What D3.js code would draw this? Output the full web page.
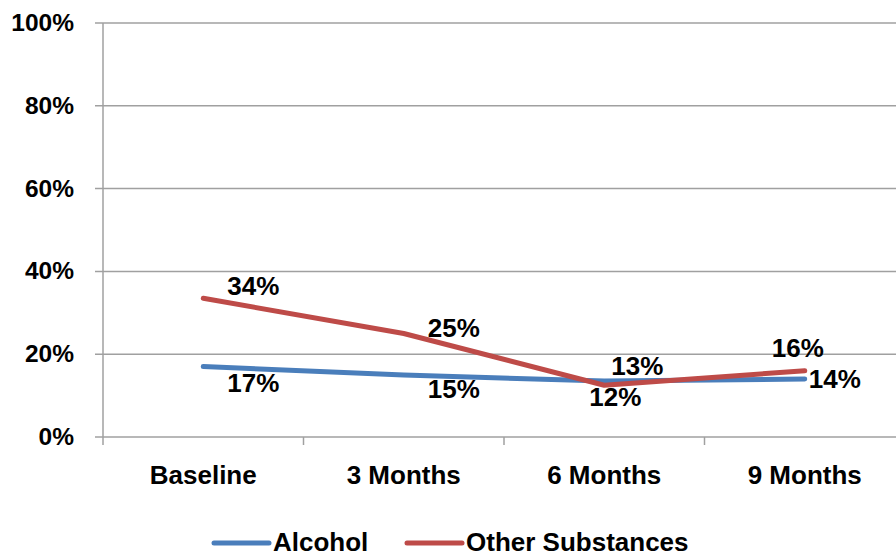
<!DOCTYPE html>
<html>
<head>
<meta charset="utf-8">
<script src="https://cdn.jsdelivr.net/npm/d3@7"></script>
<style>
  body { margin: 0; background: #fff; }
  text { font-family: "Liberation Sans", Arial, sans-serif; font-weight: bold; fill: #000; }
</style>
</head>
<body>
<svg id="chart" width="896" height="556"></svg>
<script>
// chart data
const categories = ["Baseline", "3 Months", "6 Months", "9 Months"];
const alcohol = [17, 15, 13.5, 14];
const other = [33.5, 25, 12.5, 16];
const alcoholLabels = ["17%", "15%", "12%", "14%"];
const otherLabels = ["34%", "25%", "13%", "16%"];
const yTicks = [0, 20, 40, 60, 80, 100];

// label nudges (Excel placed these by hand)
const alcoholOffsets = [[50, 16], [50, 14], [11, 16], [30, 0]];
const otherOffsets = [[50, -12], [50, -6], [33, -19], [-7, -23]];

const svg = d3.select("#chart");
const plotLeft = 103, plotRight = 905, plotTop = 23, plotBottom = 437;

const x = d3.scaleBand().domain(categories).range([plotLeft, plotRight]);
const y = d3.scaleLinear().domain([0, 100]).range([plotBottom, plotTop]);

// gridlines
svg.append("g").selectAll("line")
  .data(yTicks)
  .join("line")
  .attr("x1", plotLeft - 8).attr("x2", 896)
  .attr("y1", d => y(d)).attr("y2", d => y(d))
  .attr("stroke", "#a0a0a0").attr("stroke-width", 1.5);

// y axis line
svg.append("line")
  .attr("x1", plotLeft).attr("x2", plotLeft)
  .attr("y1", plotTop).attr("y2", plotBottom)
  .attr("stroke", "#a0a0a0").attr("stroke-width", 1.5);

// x ticks
svg.append("g").selectAll("line")
  .data(categories)
  .join("line")
  .attr("x1", d => x(d)).attr("x2", d => x(d))
  .attr("y1", plotBottom).attr("y2", plotBottom + 8)
  .attr("stroke", "#a0a0a0").attr("stroke-width", 1.5);

// y labels
svg.append("g").selectAll("text")
  .data(yTicks)
  .join("text")
  .attr("x", 74)
  .attr("y", d => y(d) + 8)
  .attr("text-anchor", "end")
  .style("font-size", "24.5px")
  .text(d => d + "%");

// x labels
svg.append("g").selectAll("text")
  .data(categories)
  .join("text")
  .attr("x", d => x(d) + x.bandwidth() / 2)
  .attr("y", 484)
  .attr("text-anchor", "middle")
  .style("font-size", "26px")
  .text(d => d);

const line = d3.line()
  .x((d, i) => x(categories[i]) + x.bandwidth() / 2)
  .y(d => y(d));

const series = [
  { name: "Alcohol", values: alcohol, labels: alcoholLabels, offsets: alcoholOffsets, color: "#4a7ebb" },
  { name: "Other Substances", values: other, labels: otherLabels, offsets: otherOffsets, color: "#be4b48" }
];

series.forEach(s => {
  svg.append("path")
    .datum(s.values)
    .attr("d", line)
    .attr("fill", "none")
    .attr("stroke", s.color)
    .attr("stroke-width", 5)
    .attr("stroke-linecap", "round")
    .attr("stroke-linejoin", "round");
});

series.forEach(s => {
  svg.append("g").selectAll("text")
    .data(s.values)
    .join("text")
    .attr("x", (d, i) => x(categories[i]) + x.bandwidth() / 2 + s.offsets[i][0])
    .attr("y", (d, i) => y(d) + s.offsets[i][1] + 9)
    .attr("text-anchor", "middle")
    .style("font-size", "26px")
    .text((d, i) => s.labels[i]);
});

// legend
const legendX = [214, 407];
series.forEach((s, i) => {
  const g = svg.append("g");
  g.append("line")
    .attr("x1", legendX[i]).attr("x2", legendX[i] + 55)
    .attr("y1", 543).attr("y2", 543)
    .attr("stroke", s.color).attr("stroke-width", 5)
    .attr("stroke-linecap", "round");
  g.append("text")
    .attr("x", legendX[i] + 59)
    .attr("y", 551)
    .style("font-size", "26px")
    .text(s.name);
});
</script>
</body>
</html>
